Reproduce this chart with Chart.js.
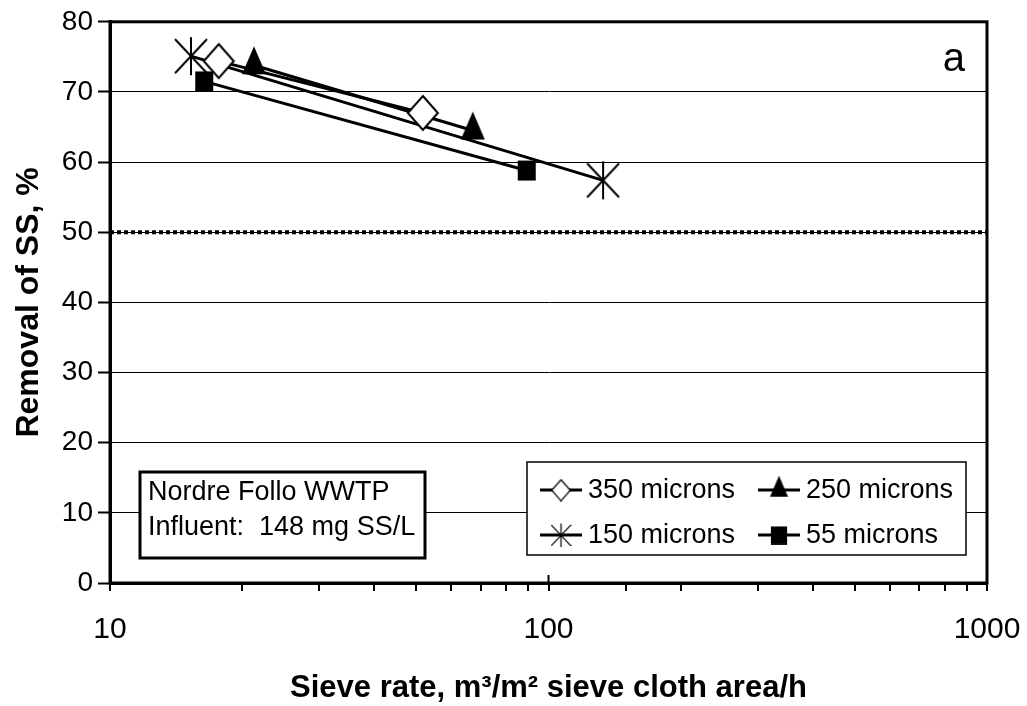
<!DOCTYPE html>
<html lang="en">
<head>
    <meta charset="UTF-8">
    <title>Removal of SS vs sieve rate</title>
    <script src="https://cdn.jsdelivr.net/npm/chart.js"></script>
    <style>
        html, body { margin: 0; padding: 0; background: #fff; }
        #wrap { width: 1027px; height: 706px; }
    </style>
</head>
<body>
    <div id="wrap"><canvas id="sieveChart" width="1027" height="706"></canvas></div>

    <script>
        // data
        const seriesNames = ['350 microns', '250 microns', '150 microns', '55 microns'];
        const rate350 = [17.7, 51.7];
        const removal350 = [74.4, 67.0];
        const rate250 = [21.3, 67.2];
        const removal250 = [73.8, 64.5];
        const rate150 = [15.3, 133.2];
        const removal150 = [75.1, 57.4];
        const rate55 = [16.4, 89.2];
        const removal55 = [71.5, 58.8];
        const limitRate = [10, 1000];
        const limitRemoval = [50, 50];
        const xTickLabels = [10, 100, 1000];
        const boxLines = ['Nordre Follo WWTP', 'Influent:  148 mg SS/L'];
        const panelLetter = 'a';

        const narrow = "'Liberation Sans Narrow', 'Arial Narrow', 'Liberation Sans', Arial, sans-serif";
        const sans = "'Liberation Sans', Arial, sans-serif";

        // marker pictures, drawn once on small canvases
        function makeMarker(kind, s) {
            const c = document.createElement('canvas');
            const g = c.getContext('2d');
            g.fillStyle = '#000';
            g.strokeStyle = '#000';
            if (kind === 'diamond') {
                c.width = 34 * s; c.height = 38 * s;
                g.scale(s, s);
                g.beginPath();
                g.moveTo(17, 2); g.lineTo(32, 19); g.lineTo(17, 36); g.lineTo(2, 19); g.closePath();
                g.fillStyle = '#fff'; g.fill();
                g.lineWidth = 2; g.stroke();
            } else if (kind === 'triangle') {
                c.width = 28 * s; c.height = 40 * s;
                g.scale(s, s);
                g.beginPath();
                g.moveTo(14, 1); g.lineTo(26, 29); g.lineTo(2, 29); g.closePath();
                g.fill();
            } else if (kind === 'square') {
                c.width = 20 * s; c.height = 22 * s;
                g.scale(s, s);
                g.fillRect(1, 1, 18, 20);
            } else {
                c.width = 34 * s; c.height = 40 * s;
                g.scale(s, s);
                g.lineWidth = 2;
                g.beginPath();
                g.moveTo(17, 1); g.lineTo(17, 39);
                g.moveTo(1, 3); g.lineTo(33, 37);
                g.moveTo(33, 3); g.lineTo(1, 37);
                g.stroke();
            }
            return c;
        }

        const markers = {
            diamond: makeMarker('diamond', 1),
            triangle: makeMarker('triangle', 1),
            asterisk: makeMarker('asterisk', 1),
            square: makeMarker('square', 1)
        };
        const smallMarkers = {
            diamond: makeMarker('diamond', 0.62),
            triangle: makeMarker('triangle', 0.75),
            asterisk: makeMarker('asterisk', 0.62),
            square: makeMarker('square', 0.9)
        };
        const markerOrder = ['diamond', 'triangle', 'asterisk', 'square'];

        function toPoints(xs, ys) {
            return xs.map((x, i) => ({ x: x, y: ys[i] }));
        }

        const seriesData = [
            toPoints(rate350, removal350),
            toPoints(rate250, removal250),
            toPoints(rate150, removal150),
            toPoints(rate55, removal55)
        ];

        const datasets = seriesData.map((pts, i) => ({
            label: seriesNames[i],
            data: pts,
            showLine: true,
            borderColor: '#000',
            backgroundColor: '#000',
            borderWidth: 3,
            pointStyle: markers[markerOrder[i]],
            pointRadius: 15
        }));

        // dotted 50 % line
        datasets.unshift({
            label: 'limit',
            data: toPoints(limitRate, limitRemoval),
            showLine: true,
            borderColor: '#000',
            borderWidth: 4,
            borderDash: [4, 3],
            pointRadius: 0
        });

        // frame, legend box, site box and panel letter
        const decorPlugin = {
            id: 'decor',
            afterDatasetsDraw(chart) {
                const ctx = chart.ctx;
                const a = chart.chartArea;
                ctx.save();

                // site text box
                ctx.fillStyle = '#fff';
                ctx.fillRect(140, 472, 285, 86);
                ctx.strokeStyle = '#000';
                ctx.lineWidth = 3;
                ctx.strokeRect(140, 472, 285, 86);
                ctx.fillStyle = '#000';
                ctx.font = '27px ' + sans;
                ctx.textBaseline = 'middle';
                ctx.textAlign = 'left';
                ctx.fillText(boxLines[0], 148, 493);
                ctx.fillText(boxLines[1], 148, 528);

                // legend box
                ctx.fillStyle = '#fff';
                ctx.fillRect(527, 462, 439, 93);
                ctx.lineWidth = 1.5;
                ctx.strokeRect(527, 462, 439, 93);
                const cols = [540, 758];
                const rows = [490, 535];
                seriesNames.forEach((name, i) => {
                    const x0 = cols[i % 2];
                    const y0 = rows[Math.floor(i / 2)];
                    ctx.strokeStyle = '#000';
                    ctx.lineWidth = 3;
                    ctx.beginPath();
                    ctx.moveTo(x0, y0);
                    ctx.lineTo(x0 + 42, y0);
                    ctx.stroke();
                    const m = smallMarkers[markerOrder[i]];
                    ctx.drawImage(m, x0 + 21 - m.width / 2, y0 - m.height / 2);
                    ctx.fillStyle = '#000';
                    ctx.font = '27px ' + sans;
                    ctx.fillText(name, x0 + 48, y0 + 1);
                });

                // panel letter
                ctx.font = '40px ' + sans;
                ctx.textAlign = 'right';
                ctx.fillText(panelLetter, a.right - 22, a.top + 38);

                // plot frame
                ctx.lineWidth = 3;
                ctx.strokeStyle = '#000';
                ctx.strokeRect(a.left, a.top, a.right - a.left, a.bottom - a.top);

                // the 100 tick also pokes up into the plot
                const x100 = chart.scales.x.getPixelForValue(100);
                ctx.lineWidth = 2;
                ctx.beginPath();
                ctx.moveTo(x100, a.bottom);
                ctx.lineTo(x100, a.bottom - 8);
                ctx.stroke();
                ctx.restore();
            }
        };

        new Chart(document.getElementById('sieveChart').getContext('2d'), {
            type: 'scatter',
            data: { datasets: datasets },
            plugins: [decorPlugin],
            options: {
                responsive: false,
                animation: false,
                layout: { padding: { left: 0, right: 40, top: 21, bottom: 0 } },
                plugins: {
                    legend: { display: false },
                    tooltip: { enabled: false }
                },
                scales: {
                    x: {
                        type: 'logarithmic',
                        min: 10,
                        max: 1000,
                        afterFit: (scale) => {
                            scale.height = 123;
                            scale.paddingLeft = 0;
                            scale.paddingRight = 0;
                        },
                        grid: {
                            drawOnChartArea: false,
                            drawTicks: true,
                            tickLength: 8,
                            color: '#000',
                            lineWidth: 2
                        },
                        border: { display: true, color: '#000', width: 3 },
                        ticks: {
                            autoSkip: false,
                            maxRotation: 0,
                            padding: 21,
                            color: '#000',
                            font: { family: narrow, size: 30 },
                            callback: (v) => xTickLabels.includes(v) ? String(v) : ''
                        },
                        title: {
                            display: true,
                            text: 'Sieve rate, m\u00B3/m\u00B2 sieve cloth area/h',
                            color: '#000',
                            font: { family: narrow, size: 31, weight: 'bold', lineHeight: 1 },
                            padding: { top: 0, bottom: 2 }
                        }
                    },
                    y: {
                        min: 0,
                        max: 80,
                        afterFit: (scale) => { scale.width = 110; },
                        grid: {
                            color: '#000',
                            lineWidth: 1,
                            tickLength: 12,
                            tickWidth: 2
                        },
                        border: { display: true, color: '#000', width: 3 },
                        ticks: {
                            stepSize: 10,
                            padding: 5,
                            color: '#000',
                            font: { family: sans, size: 28 }
                        },
                        title: {
                            display: true,
                            text: 'Removal of SS, %',
                            color: '#000',
                            font: { family: sans, size: 32, weight: 'bold', lineHeight: 1.2 },
                            padding: { top: 10, bottom: 0 }
                        }
                    }
                }
            }
        });
    </script>
</body>
</html>
